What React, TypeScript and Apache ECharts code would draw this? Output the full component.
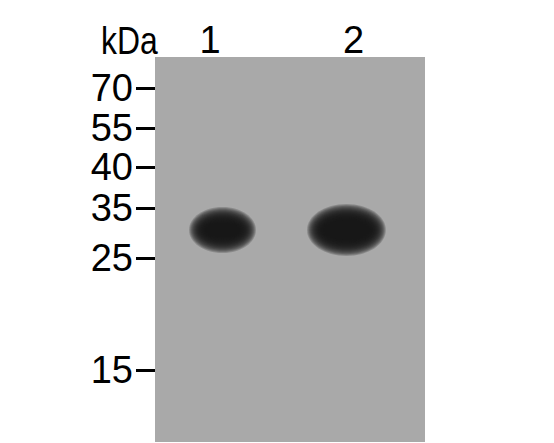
import { useEffect, useRef } from 'react';
import * as echarts from 'echarts';

// lanes across the membrane (x in % of membrane width)
const laneNames = ['1', '2'];
const laneLabelPos = [20.4, 73.5];

// marker ladder: kDa label and migration distance from the top of the membrane (px units)
const markerLabels = ['70', '55', '40', '35', '25', '15'];
const markerPos = [31, 71, 110, 151, 201, 313];

// bands: lane centre (x), migration (y), width (x units), height (y units)
const bandX = [25.0, 70.9];
const bandY = [173, 173];
const bandW = [19.6, 24.0];
const bandH = [32, 38];

const FONT = '"Liberation Sans", sans-serif';
const HALO = 7;

export default function App() {
  const chartRef = useRef<HTMLDivElement | null>(null);

  useEffect(() => {
    if (!chartRef.current) {
      return;
    }
    const chart = echarts.init(chartRef.current, undefined, { renderer: 'svg' });
    chart.setOption({
      animation: false,
      backgroundColor: '#ffffff',
      grid: {
        left: 155,
        top: 57,
        right: 129,
        bottom: 1,
        show: true,
        backgroundColor: '#a9a9a9',
        borderWidth: 0,
      },
      graphic: [
        {
          type: 'text',
          x: 101,
          y: 21,
          scaleX: 0.84,
          style: { text: 'kDa', fontFamily: FONT, fontSize: 38, fill: '#000' },
        },
      ],
      xAxis: {
        type: 'value',
        position: 'top',
        min: 0,
        max: 100,
        axisLine: { show: false },
        axisTick: { show: false },
        splitLine: { show: false },
        axisLabel: {
          customValues: laneLabelPos,
          formatter: (v: number) => laneNames[laneLabelPos.indexOf(v)] ?? '',
          color: '#000',
          fontFamily: FONT,
          fontSize: 38,
          margin: -2,
        },
      },
      yAxis: {
        type: 'value',
        inverse: true,
        min: 0,
        max: 385,
        axisLine: { show: false },
        splitLine: { show: false },
        axisTick: {
          show: true,
          customValues: markerPos,
          length: 19,
          lineStyle: { color: '#000', width: 3 },
        },
        axisLabel: {
          customValues: markerPos,
          formatter: (v: number) => markerLabels[markerPos.indexOf(v)] ?? '',
          color: '#000',
          fontFamily: FONT,
          fontSize: 38,
          margin: 22,
        },
      },
      series: [
        {
          type: 'custom',
          silent: true,
          data: bandX.map((x, i) => [x, bandY[i], bandW[i], bandH[i]]),
          renderItem: (_params: any, api: any) => {
            const c = api.coord([api.value(0), api.value(1)]);
            const s = api.size([api.value(2), api.value(3)]);
            const rx = s[0] / 2;
            const ry = s[1] / 2;
            const children: any[] = [];
            // soft band: stacked translucent ellipses, darkest in the middle
            for (let j = HALO; j >= -HALO - 2; j--) {
              children.push({
                type: 'ellipse',
                shape: { cx: c[0], cy: c[1], rx: rx + j, ry: ry + j },
                style: { fill: 'rgba(24,24,24,0.21)' },
              });
            }
            return { type: 'group', children };
          },
        },
      ],
    });
    return () => {
      chart.dispose();
    };
  }, []);

  return (
    <div
      ref={chartRef}
      style={{ position: 'fixed', left: 0, top: 0, width: 554, height: 443 }}
    />
  );
}
